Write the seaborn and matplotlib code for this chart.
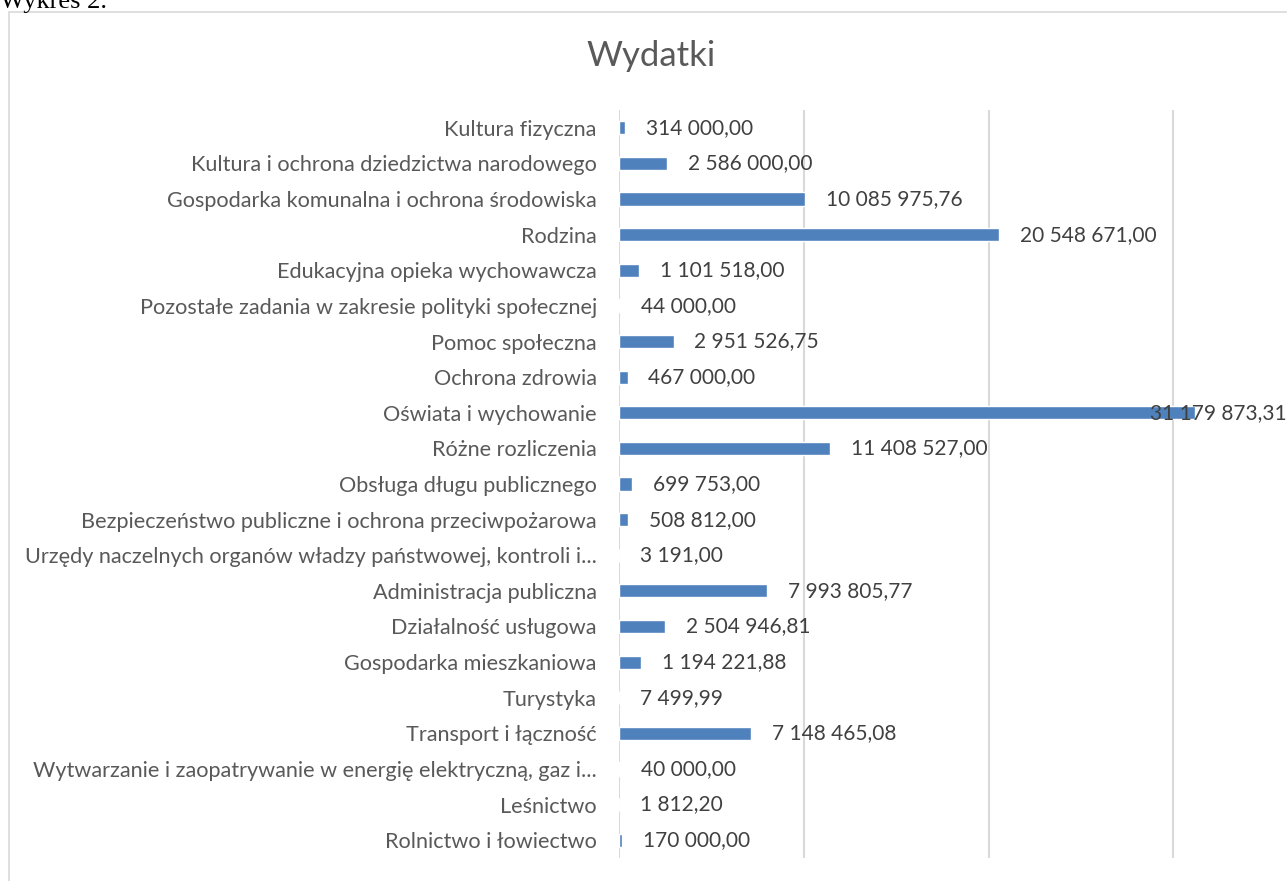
import matplotlib
matplotlib.use("Agg")
import matplotlib.pyplot as plt
import matplotlib.transforms as mtransforms
from matplotlib.patches import Rectangle
import seaborn as sns
import pandas as pd

# Dane wykresu (od góry do dołu)
kategorie = [
    "Kultura fizyczna",
    "Kultura i ochrona dziedzictwa narodowego",
    "Gospodarka komunalna i ochrona środowiska",
    "Rodzina",
    "Edukacyjna opieka wychowawcza",
    "Pozostałe zadania w zakresie polityki społecznej",
    "Pomoc społeczna",
    "Ochrona zdrowia",
    "Oświata i wychowanie",
    "Różne rozliczenia",
    "Obsługa długu publicznego",
    "Bezpieczeństwo publiczne i ochrona przeciwpożarowa",
    "Urzędy naczelnych organów władzy państwowej, kontroli i...",
    "Administracja publiczna",
    "Działalność usługowa",
    "Gospodarka mieszkaniowa",
    "Turystyka",
    "Transport i łączność",
    "Wytwarzanie i zaopatrywanie w energię elektryczną, gaz i...",
    "Leśnictwo",
    "Rolnictwo i łowiectwo",
]
wydatki = [
    314000.00, 2586000.00, 10085975.76, 20548671.00, 1101518.00,
    44000.00, 2951526.75, 467000.00, 31179873.31, 11408527.00,
    699753.00, 508812.00, 3191.00, 7993805.77, 2504946.81,
    1194221.88, 7499.99, 7148465.08, 40000.00, 1812.20, 170000.00,
]
siatka = [0, 10_000_000, 20_000_000, 30_000_000]

df = pd.DataFrame({"Dzial": kategorie, "Kwota": wydatki})

sns.set_style("white")
plt.rcParams["font.family"] = ["Lato", "DejaVu Sans"]

fig = plt.figure(figsize=(12.87, 8.81), dpi=100)
ax = fig.add_axes([619 / 1287, 1 - 858 / 881, 1 - 619 / 1287, (858 - 110) / 881])

# ramka wykresu i podpis dokumentu
fig.patches.append(Rectangle((9 / 1287, -0.05), 1.1, 1.05 - 12 / 881, transform=fig.transFigure,
                             fill=False, edgecolor="#d9d9d9", linewidth=1.2))
fig.text(0, 1 - 8 / 881, "Wykres 2.", family="Liberation Serif", fontsize=19,
         color="black", va="baseline", ha="left")

sns.barplot(data=df, y="Dzial", x="Kwota", orient="h", color="#4F81BD",
            saturation=1, width=0.37, ax=ax, zorder=2)

xmax = 36_150_000
ax.set_xlim(0, xmax)
ax.set_ylim(len(kategorie) - 0.5, -0.5)
ax.set_xticks(siatka)
ax.set_xticklabels([])
ax.grid(axis="x", color="#d9d9d9", linewidth=1.5, zorder=0)
ax.grid(axis="y", visible=False)
for s in ax.spines.values():
    s.set_visible(False)
ax.tick_params(axis="both", length=0)
ax.tick_params(axis="y", pad=16, labelsize=15.6, labelcolor="#595959")
ax.set_xlabel("")
ax.set_ylabel("")

def fmt(v):
    return f"{v:,.2f}".replace(",", " ").replace(".", ",")

blend = mtransforms.blended_transform_factory(ax.transAxes, ax.transData)
for i, v in enumerate(wydatki):
    if v > 0.8 * xmax:
        ax.text(0.9995, i, fmt(v), transform=blend, ha="right", va="center",
                fontsize=15, color="#404040", zorder=5)
    else:
        ax.annotate(fmt(v), xy=(v, i), xytext=(15, 0), textcoords="offset points",
                    ha="left", va="center", fontsize=15, color="#404040", zorder=5)

fig.text(651 / 1287, 1 - 56 / 881, "Wydatki", ha="center", va="center",
         fontsize=25, color="#595959")

fig.savefig("out.png", dpi=100)
